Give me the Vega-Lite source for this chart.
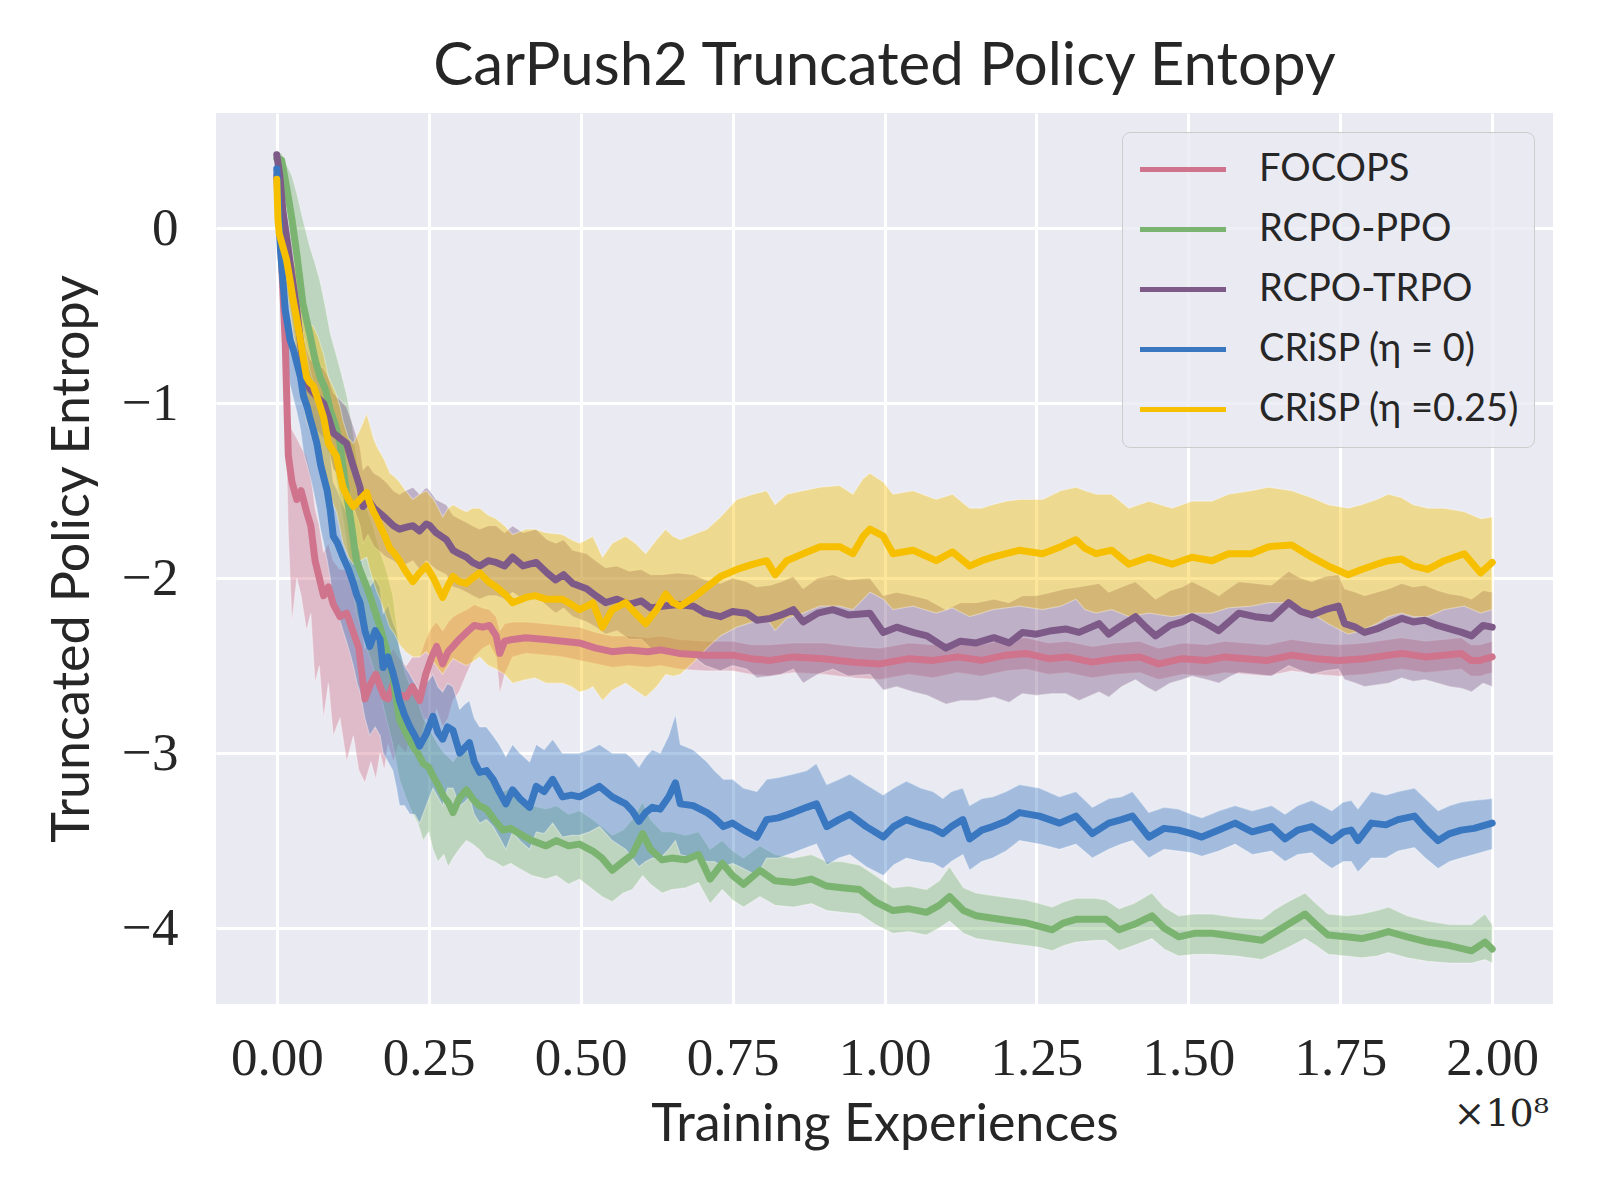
{
  "$schema": "https://vega.github.io/schema/vega-lite/v6.json",
  "width": 1337,
  "height": 891,
  "autosize": "none",
  "padding": {"left": 216, "top": 113, "right": 47, "bottom": 196},
  "background": "white",
  "title": {
    "text": "CarPush2 Truncated Policy Entopy",
    "font": "Lato",
    "fontSize": 60,
    "fontWeight": "normal",
    "color": "#262626",
    "anchor": "middle",
    "frame": "group",
    "baseline": "alphabetic",
    "offset": -32
  },
  "data": {
    "values": [
      {"s":"F","x":0,"m":0.3,"l":0.22,"h":0.36},
      {"s":"F","x":0.008,"m":-0.2,"l":-0.45,"h":0.0},
      {"s":"F","x":0.014,"m":-0.66,"l":-1.0,"h":-0.45},
      {"s":"F","x":0.019,"m":-1.3,"l":-1.75,"h":-1.0},
      {"s":"F","x":0.025,"m":-1.45,"l":-2.25,"h":-1.15},
      {"s":"F","x":0.033,"m":-1.55,"l":-2.0,"h":-1.2},
      {"s":"F","x":0.04,"m":-1.5,"l":-2.1,"h":-1.25},
      {"s":"F","x":0.049,"m":-1.62,"l":-2.3,"h":-1.3},
      {"s":"F","x":0.056,"m":-1.7,"l":-2.2,"h":-1.4},
      {"s":"F","x":0.063,"m":-1.9,"l":-2.6,"h":-1.6},
      {"s":"F","x":0.07,"m":-2.0,"l":-2.5,"h":-1.7},
      {"s":"F","x":0.077,"m":-2.1,"l":-2.8,"h":-1.85},
      {"s":"F","x":0.085,"m":-2.05,"l":-2.6,"h":-1.8},
      {"s":"F","x":0.093,"m":-2.15,"l":-2.9,"h":-1.9},
      {"s":"F","x":0.104,"m":-2.22,"l":-2.8,"h":-1.95},
      {"s":"F","x":0.115,"m":-2.2,"l":-3.05,"h":-1.95},
      {"s":"F","x":0.126,"m":-2.31,"l":-2.9,"h":-2.05},
      {"s":"F","x":0.135,"m":-2.4,"l":-3.1,"h":-2.15},
      {"s":"F","x":0.145,"m":-2.69,"l":-3.17,"h":-2.4},
      {"s":"F","x":0.155,"m":-2.6,"l":-3.05,"h":-2.35},
      {"s":"F","x":0.163,"m":-2.55,"l":-3.15,"h":-2.3},
      {"s":"F","x":0.17,"m":-2.62,"l":-3.0,"h":-2.4},
      {"s":"F","x":0.177,"m":-2.68,"l":-3.1,"h":-2.45},
      {"s":"F","x":0.183,"m":-2.69,"l":-2.95,"h":-2.45},
      {"s":"F","x":0.192,"m":-2.6,"l":-3.05,"h":-2.4},
      {"s":"F","x":0.2,"m":-2.66,"l":-2.95,"h":-2.45},
      {"s":"F","x":0.213,"m":-2.68,"l":-3.0,"h":-2.5},
      {"s":"F","x":0.223,"m":-2.62,"l":-2.85,"h":-2.45},
      {"s":"F","x":0.235,"m":-2.7,"l":-2.95,"h":-2.45},
      {"s":"F","x":0.245,"m":-2.55,"l":-2.8,"h":-2.35},
      {"s":"F","x":0.255,"m":-2.45,"l":-2.85,"h":-2.28},
      {"s":"F","x":0.263,"m":-2.39,"l":-2.75,"h":-2.25},
      {"s":"F","x":0.273,"m":-2.49,"l":-2.85,"h":-2.3},
      {"s":"F","x":0.282,"m":-2.42,"l":-2.8,"h":-2.25},
      {"s":"F","x":0.29,"m":-2.39,"l":-2.7,"h":-2.22},
      {"s":"F","x":0.3,"m":-2.35,"l":-2.65,"h":-2.2},
      {"s":"F","x":0.312,"m":-2.31,"l":-2.55,"h":-2.18},
      {"s":"F","x":0.325,"m":-2.27,"l":-2.45,"h":-2.15},
      {"s":"F","x":0.339,"m":-2.28,"l":-2.4,"h":-2.17},
      {"s":"F","x":0.35,"m":-2.27,"l":-2.38,"h":-2.18},
      {"s":"F","x":0.361,"m":-2.33,"l":-2.45,"h":-2.22},
      {"s":"F","x":0.367,"m":-2.43,"l":-2.66,"h":-2.3},
      {"s":"F","x":0.375,"m":-2.36,"l":-2.55,"h":-2.26},
      {"s":"F","x":0.388,"m":-2.35,"l":-2.45,"h":-2.25},
      {"s":"F","x":0.41,"m":-2.34,"l":-2.43,"h":-2.25},
      {"s":"F","x":0.443,"m":-2.35,"l":-2.44,"h":-2.26},
      {"s":"F","x":0.47,"m":-2.36,"l":-2.45,"h":-2.27},
      {"s":"F","x":0.498,"m":-2.37,"l":-2.47,"h":-2.28},
      {"s":"F","x":0.525,"m":-2.4,"l":-2.49,"h":-2.31},
      {"s":"F","x":0.552,"m":-2.42,"l":-2.51,"h":-2.33},
      {"s":"F","x":0.58,"m":-2.41,"l":-2.5,"h":-2.33},
      {"s":"F","x":0.61,"m":-2.42,"l":-2.51,"h":-2.34},
      {"s":"F","x":0.631,"m":-2.41,"l":-2.5,"h":-2.33},
      {"s":"F","x":0.662,"m":-2.43,"l":-2.52,"h":-2.35},
      {"s":"F","x":0.705,"m":-2.44,"l":-2.53,"h":-2.36},
      {"s":"F","x":0.75,"m":-2.44,"l":-2.53,"h":-2.36},
      {"s":"F","x":0.78,"m":-2.46,"l":-2.55,"h":-2.38},
      {"s":"F","x":0.812,"m":-2.47,"l":-2.56,"h":-2.38},
      {"s":"F","x":0.85,"m":-2.45,"l":-2.54,"h":-2.37},
      {"s":"F","x":0.9,"m":-2.46,"l":-2.55,"h":-2.37},
      {"s":"F","x":0.95,"m":-2.48,"l":-2.57,"h":-2.39},
      {"s":"F","x":0.992,"m":-2.49,"l":-2.58,"h":-2.4},
      {"s":"F","x":1.04,"m":-2.46,"l":-2.55,"h":-2.37},
      {"s":"F","x":1.08,"m":-2.47,"l":-2.57,"h":-2.38},
      {"s":"F","x":1.12,"m":-2.45,"l":-2.54,"h":-2.36},
      {"s":"F","x":1.16,"m":-2.47,"l":-2.56,"h":-2.38},
      {"s":"F","x":1.2,"m":-2.44,"l":-2.53,"h":-2.35},
      {"s":"F","x":1.233,"m":-2.43,"l":-2.52,"h":-2.34},
      {"s":"F","x":1.27,"m":-2.46,"l":-2.55,"h":-2.37},
      {"s":"F","x":1.3,"m":-2.45,"l":-2.54,"h":-2.36},
      {"s":"F","x":1.342,"m":-2.48,"l":-2.57,"h":-2.39},
      {"s":"F","x":1.38,"m":-2.46,"l":-2.55,"h":-2.37},
      {"s":"F","x":1.42,"m":-2.45,"l":-2.54,"h":-2.36},
      {"s":"F","x":1.451,"m":-2.49,"l":-2.58,"h":-2.4},
      {"s":"F","x":1.49,"m":-2.46,"l":-2.55,"h":-2.37},
      {"s":"F","x":1.53,"m":-2.47,"l":-2.56,"h":-2.38},
      {"s":"F","x":1.56,"m":-2.45,"l":-2.54,"h":-2.36},
      {"s":"F","x":1.594,"m":-2.46,"l":-2.55,"h":-2.37},
      {"s":"F","x":1.63,"m":-2.47,"l":-2.56,"h":-2.38},
      {"s":"F","x":1.67,"m":-2.44,"l":-2.53,"h":-2.35},
      {"s":"F","x":1.71,"m":-2.46,"l":-2.55,"h":-2.37},
      {"s":"F","x":1.747,"m":-2.47,"l":-2.56,"h":-2.38},
      {"s":"F","x":1.79,"m":-2.46,"l":-2.55,"h":-2.37},
      {"s":"F","x":1.83,"m":-2.44,"l":-2.53,"h":-2.35},
      {"s":"F","x":1.851,"m":-2.43,"l":-2.52,"h":-2.34},
      {"s":"F","x":1.89,"m":-2.45,"l":-2.54,"h":-2.36},
      {"s":"F","x":1.92,"m":-2.44,"l":-2.53,"h":-2.35},
      {"s":"F","x":1.949,"m":-2.43,"l":-2.52,"h":-2.34},
      {"s":"F","x":1.965,"m":-2.47,"l":-2.56,"h":-2.38},
      {"s":"F","x":1.98,"m":-2.47,"l":-2.56,"h":-2.38},
      {"s":"F","x":2.0,"m":-2.45,"l":-2.54,"h":-2.36},

      {"s":"P","x":0,"m":0.4,"l":0.35,"h":0.43},
      {"s":"P","x":0.008,"m":0.39,"l":0.3,"h":0.43},
      {"s":"P","x":0.018,"m":0.2,"l":0.05,"h":0.35},
      {"s":"P","x":0.025,"m":0.05,"l":-0.15,"h":0.3},
      {"s":"P","x":0.033,"m":-0.15,"l":-0.35,"h":0.2},
      {"s":"P","x":0.043,"m":-0.43,"l":-0.6,"h":0.05},
      {"s":"P","x":0.054,"m":-0.6,"l":-0.8,"h":-0.1},
      {"s":"P","x":0.063,"m":-0.75,"l":-0.95,"h":-0.2},
      {"s":"P","x":0.071,"m":-0.85,"l":-1.05,"h":-0.3},
      {"s":"P","x":0.08,"m":-0.92,"l":-1.15,"h":-0.45},
      {"s":"P","x":0.088,"m":-1.04,"l":-1.3,"h":-0.6},
      {"s":"P","x":0.096,"m":-1.12,"l":-1.4,"h":-0.7},
      {"s":"P","x":0.104,"m":-1.23,"l":-1.55,"h":-0.8},
      {"s":"P","x":0.115,"m":-1.52,"l":-1.8,"h":-0.95},
      {"s":"P","x":0.123,"m":-1.7,"l":-2.0,"h":-1.1},
      {"s":"P","x":0.131,"m":-1.9,"l":-2.2,"h":-1.3},
      {"s":"P","x":0.14,"m":-1.98,"l":-2.3,"h":-1.5},
      {"s":"P","x":0.148,"m":-2.05,"l":-2.4,"h":-1.6},
      {"s":"P","x":0.158,"m":-2.15,"l":-2.5,"h":-1.7},
      {"s":"P","x":0.17,"m":-2.28,"l":-2.65,"h":-1.85},
      {"s":"P","x":0.18,"m":-2.4,"l":-2.8,"h":-1.95},
      {"s":"P","x":0.191,"m":-2.56,"l":-2.95,"h":-2.1},
      {"s":"P","x":0.202,"m":-2.81,"l":-3.15,"h":-2.4},
      {"s":"P","x":0.212,"m":-2.88,"l":-3.25,"h":-2.55},
      {"s":"P","x":0.224,"m":-2.96,"l":-3.35,"h":-2.65},
      {"s":"P","x":0.232,"m":-3.0,"l":-3.4,"h":-2.7},
      {"s":"P","x":0.241,"m":-3.06,"l":-3.5,"h":-2.8},
      {"s":"P","x":0.25,"m":-3.08,"l":-3.45,"h":-2.85},
      {"s":"P","x":0.257,"m":-3.13,"l":-3.55,"h":-2.9},
      {"s":"P","x":0.265,"m":-3.18,"l":-3.62,"h":-2.95},
      {"s":"P","x":0.275,"m":-3.25,"l":-3.58,"h":-3.0},
      {"s":"P","x":0.282,"m":-3.28,"l":-3.65,"h":-3.02},
      {"s":"P","x":0.29,"m":-3.34,"l":-3.6,"h":-3.05},
      {"s":"P","x":0.3,"m":-3.26,"l":-3.55,"h":-3.0},
      {"s":"P","x":0.312,"m":-3.21,"l":-3.5,"h":-2.98},
      {"s":"P","x":0.322,"m":-3.26,"l":-3.52,"h":-3.05},
      {"s":"P","x":0.333,"m":-3.3,"l":-3.55,"h":-3.1},
      {"s":"P","x":0.345,"m":-3.32,"l":-3.6,"h":-3.12},
      {"s":"P","x":0.358,"m":-3.38,"l":-3.62,"h":-3.18},
      {"s":"P","x":0.372,"m":-3.44,"l":-3.65,"h":-3.22},
      {"s":"P","x":0.385,"m":-3.43,"l":-3.63,"h":-3.2},
      {"s":"P","x":0.399,"m":-3.46,"l":-3.66,"h":-3.28},
      {"s":"P","x":0.42,"m":-3.5,"l":-3.7,"h":-3.3},
      {"s":"P","x":0.443,"m":-3.53,"l":-3.72,"h":-3.32},
      {"s":"P","x":0.46,"m":-3.5,"l":-3.7,"h":-3.3},
      {"s":"P","x":0.48,"m":-3.53,"l":-3.75,"h":-3.35},
      {"s":"P","x":0.498,"m":-3.52,"l":-3.72,"h":-3.33},
      {"s":"P","x":0.52,"m":-3.56,"l":-3.78,"h":-3.38},
      {"s":"P","x":0.535,"m":-3.6,"l":-3.82,"h":-3.42},
      {"s":"P","x":0.552,"m":-3.67,"l":-3.85,"h":-3.47},
      {"s":"P","x":0.57,"m":-3.62,"l":-3.8,"h":-3.44},
      {"s":"P","x":0.585,"m":-3.58,"l":-3.78,"h":-3.38},
      {"s":"P","x":0.602,"m":-3.46,"l":-3.7,"h":-3.28},
      {"s":"P","x":0.615,"m":-3.55,"l":-3.75,"h":-3.38},
      {"s":"P","x":0.634,"m":-3.61,"l":-3.8,"h":-3.45},
      {"s":"P","x":0.65,"m":-3.6,"l":-3.78,"h":-3.45},
      {"s":"P","x":0.673,"m":-3.61,"l":-3.77,"h":-3.47},
      {"s":"P","x":0.694,"m":-3.58,"l":-3.74,"h":-3.45},
      {"s":"P","x":0.713,"m":-3.72,"l":-3.86,"h":-3.55},
      {"s":"P","x":0.733,"m":-3.63,"l":-3.78,"h":-3.5},
      {"s":"P","x":0.75,"m":-3.7,"l":-3.84,"h":-3.56},
      {"s":"P","x":0.768,"m":-3.75,"l":-3.88,"h":-3.6},
      {"s":"P","x":0.795,"m":-3.67,"l":-3.82,"h":-3.53},
      {"s":"P","x":0.82,"m":-3.73,"l":-3.87,"h":-3.58},
      {"s":"P","x":0.85,"m":-3.74,"l":-3.88,"h":-3.6},
      {"s":"P","x":0.88,"m":-3.72,"l":-3.86,"h":-3.58},
      {"s":"P","x":0.905,"m":-3.76,"l":-3.9,"h":-3.62},
      {"s":"P","x":0.93,"m":-3.77,"l":-3.91,"h":-3.62},
      {"s":"P","x":0.959,"m":-3.78,"l":-3.92,"h":-3.64},
      {"s":"P","x":0.985,"m":-3.85,"l":-3.98,"h":-3.7},
      {"s":"P","x":1.014,"m":-3.9,"l":-4.03,"h":-3.77},
      {"s":"P","x":1.04,"m":-3.89,"l":-4.02,"h":-3.76},
      {"s":"P","x":1.069,"m":-3.91,"l":-4.04,"h":-3.78},
      {"s":"P","x":1.09,"m":-3.87,"l":-4.0,"h":-3.73},
      {"s":"P","x":1.107,"m":-3.82,"l":-3.96,"h":-3.65},
      {"s":"P","x":1.13,"m":-3.9,"l":-4.03,"h":-3.77},
      {"s":"P","x":1.151,"m":-3.93,"l":-4.06,"h":-3.8},
      {"s":"P","x":1.19,"m":-3.95,"l":-4.08,"h":-3.82},
      {"s":"P","x":1.233,"m":-3.97,"l":-4.1,"h":-3.84},
      {"s":"P","x":1.255,"m":-3.99,"l":-4.11,"h":-3.86},
      {"s":"P","x":1.276,"m":-4.01,"l":-4.13,"h":-3.88},
      {"s":"P","x":1.295,"m":-3.97,"l":-4.1,"h":-3.85},
      {"s":"P","x":1.315,"m":-3.95,"l":-4.08,"h":-3.83},
      {"s":"P","x":1.348,"m":-3.95,"l":-4.07,"h":-3.83},
      {"s":"P","x":1.364,"m":-3.95,"l":-4.07,"h":-3.84},
      {"s":"P","x":1.386,"m":-4.01,"l":-4.13,"h":-3.89},
      {"s":"P","x":1.41,"m":-3.98,"l":-4.1,"h":-3.86},
      {"s":"P","x":1.44,"m":-3.93,"l":-4.06,"h":-3.8},
      {"s":"P","x":1.46,"m":-4.0,"l":-4.12,"h":-3.88},
      {"s":"P","x":1.484,"m":-4.05,"l":-4.16,"h":-3.93},
      {"s":"P","x":1.51,"m":-4.03,"l":-4.15,"h":-3.92},
      {"s":"P","x":1.539,"m":-4.03,"l":-4.15,"h":-3.92},
      {"s":"P","x":1.58,"m":-4.05,"l":-4.16,"h":-3.94},
      {"s":"P","x":1.621,"m":-4.07,"l":-4.18,"h":-3.95},
      {"s":"P","x":1.64,"m":-4.03,"l":-4.15,"h":-3.9},
      {"s":"P","x":1.659,"m":-3.99,"l":-4.12,"h":-3.86},
      {"s":"P","x":1.692,"m":-3.92,"l":-4.06,"h":-3.8},
      {"s":"P","x":1.71,"m":-3.98,"l":-4.1,"h":-3.86},
      {"s":"P","x":1.73,"m":-4.04,"l":-4.15,"h":-3.92},
      {"s":"P","x":1.76,"m":-4.05,"l":-4.16,"h":-3.93},
      {"s":"P","x":1.785,"m":-4.06,"l":-4.17,"h":-3.92},
      {"s":"P","x":1.81,"m":-4.04,"l":-4.16,"h":-3.9},
      {"s":"P","x":1.829,"m":-4.02,"l":-4.14,"h":-3.88},
      {"s":"P","x":1.86,"m":-4.05,"l":-4.17,"h":-3.93},
      {"s":"P","x":1.894,"m":-4.08,"l":-4.19,"h":-3.96},
      {"s":"P","x":1.93,"m":-4.1,"l":-4.2,"h":-3.98},
      {"s":"P","x":1.966,"m":-4.13,"l":-4.2,"h":-3.98},
      {"s":"P","x":1.988,"m":-4.08,"l":-4.18,"h":-3.92},
      {"s":"P","x":2.0,"m":-4.12,"l":-4.2,"h":-3.98},

      {"s":"T","x":0,"m":0.42,"l":0.38,"h":0.45},
      {"s":"T","x":0.005,"m":0.3,"l":0.2,"h":0.4},
      {"s":"T","x":0.01,"m":0.1,"l":-0.05,"h":0.25},
      {"s":"T","x":0.016,"m":-0.05,"l":-0.2,"h":0.1},
      {"s":"T","x":0.024,"m":-0.25,"l":-0.42,"h":-0.08},
      {"s":"T","x":0.033,"m":-0.47,"l":-0.65,"h":-0.3},
      {"s":"T","x":0.04,"m":-0.68,"l":-0.85,"h":-0.5},
      {"s":"T","x":0.044,"m":-0.81,"l":-0.98,"h":-0.62},
      {"s":"T","x":0.05,"m":-0.88,"l":-1.05,"h":-0.7},
      {"s":"T","x":0.055,"m":-0.92,"l":-1.1,"h":-0.75},
      {"s":"T","x":0.065,"m":-0.96,"l":-1.15,"h":-0.78},
      {"s":"T","x":0.077,"m":-1.0,"l":-1.2,"h":-0.8},
      {"s":"T","x":0.085,"m":-1.08,"l":-1.28,"h":-0.85},
      {"s":"T","x":0.093,"m":-1.17,"l":-1.38,"h":-0.94},
      {"s":"T","x":0.104,"m":-1.2,"l":-1.42,"h":-0.98},
      {"s":"T","x":0.115,"m":-1.23,"l":-1.45,"h":-1.02},
      {"s":"T","x":0.125,"m":-1.35,"l":-1.58,"h":-1.12},
      {"s":"T","x":0.137,"m":-1.48,"l":-1.7,"h":-1.25},
      {"s":"T","x":0.142,"m":-1.59,"l":-1.8,"h":-1.38},
      {"s":"T","x":0.15,"m":-1.55,"l":-1.75,"h":-1.35},
      {"s":"T","x":0.16,"m":-1.6,"l":-1.82,"h":-1.4},
      {"s":"T","x":0.17,"m":-1.63,"l":-1.85,"h":-1.42},
      {"s":"T","x":0.18,"m":-1.66,"l":-1.88,"h":-1.45},
      {"s":"T","x":0.192,"m":-1.7,"l":-1.9,"h":-1.5},
      {"s":"T","x":0.202,"m":-1.72,"l":-1.93,"h":-1.52},
      {"s":"T","x":0.212,"m":-1.71,"l":-1.92,"h":-1.5},
      {"s":"T","x":0.224,"m":-1.7,"l":-1.9,"h":-1.48},
      {"s":"T","x":0.235,"m":-1.73,"l":-1.95,"h":-1.52},
      {"s":"T","x":0.246,"m":-1.69,"l":-1.9,"h":-1.48},
      {"s":"T","x":0.252,"m":-1.7,"l":-1.92,"h":-1.5},
      {"s":"T","x":0.262,"m":-1.74,"l":-1.95,"h":-1.55},
      {"s":"T","x":0.279,"m":-1.78,"l":-1.98,"h":-1.58},
      {"s":"T","x":0.29,"m":-1.84,"l":-2.05,"h":-1.64},
      {"s":"T","x":0.3,"m":-1.86,"l":-2.06,"h":-1.66},
      {"s":"T","x":0.312,"m":-1.88,"l":-2.08,"h":-1.68},
      {"s":"T","x":0.322,"m":-1.91,"l":-2.1,"h":-1.7},
      {"s":"T","x":0.334,"m":-1.93,"l":-2.12,"h":-1.72},
      {"s":"T","x":0.348,"m":-1.9,"l":-2.1,"h":-1.7},
      {"s":"T","x":0.361,"m":-1.91,"l":-2.1,"h":-1.7},
      {"s":"T","x":0.375,"m":-1.93,"l":-2.12,"h":-1.74},
      {"s":"T","x":0.388,"m":-1.88,"l":-2.08,"h":-1.7},
      {"s":"T","x":0.405,"m":-1.93,"l":-2.12,"h":-1.74},
      {"s":"T","x":0.427,"m":-1.91,"l":-2.1,"h":-1.72},
      {"s":"T","x":0.445,"m":-1.97,"l":-2.16,"h":-1.78},
      {"s":"T","x":0.459,"m":-2.01,"l":-2.2,"h":-1.8},
      {"s":"T","x":0.472,"m":-1.98,"l":-2.17,"h":-1.78},
      {"s":"T","x":0.487,"m":-2.03,"l":-2.22,"h":-1.84},
      {"s":"T","x":0.51,"m":-2.06,"l":-2.25,"h":-1.86},
      {"s":"T","x":0.525,"m":-2.1,"l":-2.28,"h":-1.9},
      {"s":"T","x":0.541,"m":-2.14,"l":-2.32,"h":-1.94},
      {"s":"T","x":0.56,"m":-2.12,"l":-2.3,"h":-1.93},
      {"s":"T","x":0.58,"m":-2.15,"l":-2.35,"h":-1.96},
      {"s":"T","x":0.6,"m":-2.13,"l":-2.35,"h":-1.95},
      {"s":"T","x":0.615,"m":-2.17,"l":-2.4,"h":-1.98},
      {"s":"T","x":0.634,"m":-2.16,"l":-2.42,"h":-1.98},
      {"s":"T","x":0.66,"m":-2.15,"l":-2.43,"h":-1.97},
      {"s":"T","x":0.686,"m":-2.16,"l":-2.45,"h":-1.98},
      {"s":"T","x":0.705,"m":-2.2,"l":-2.5,"h":-2.01},
      {"s":"T","x":0.73,"m":-2.22,"l":-2.53,"h":-2.03},
      {"s":"T","x":0.75,"m":-2.19,"l":-2.5,"h":-2.0},
      {"s":"T","x":0.773,"m":-2.2,"l":-2.52,"h":-2.02},
      {"s":"T","x":0.79,"m":-2.24,"l":-2.57,"h":-2.05},
      {"s":"T","x":0.812,"m":-2.23,"l":-2.56,"h":-2.04},
      {"s":"T","x":0.83,"m":-2.21,"l":-2.55,"h":-2.02},
      {"s":"T","x":0.85,"m":-2.18,"l":-2.52,"h":-1.99},
      {"s":"T","x":0.866,"m":-2.25,"l":-2.6,"h":-2.06},
      {"s":"T","x":0.89,"m":-2.2,"l":-2.55,"h":-2.0},
      {"s":"T","x":0.915,"m":-2.18,"l":-2.52,"h":-1.98},
      {"s":"T","x":0.94,"m":-2.21,"l":-2.56,"h":-2.01},
      {"s":"T","x":0.976,"m":-2.2,"l":-2.55,"h":-2.0},
      {"s":"T","x":0.998,"m":-2.31,"l":-2.64,"h":-2.1},
      {"s":"T","x":1.02,"m":-2.28,"l":-2.62,"h":-2.08},
      {"s":"T","x":1.047,"m":-2.31,"l":-2.65,"h":-2.1},
      {"s":"T","x":1.07,"m":-2.33,"l":-2.67,"h":-2.12},
      {"s":"T","x":1.101,"m":-2.4,"l":-2.72,"h":-2.18},
      {"s":"T","x":1.125,"m":-2.36,"l":-2.7,"h":-2.14},
      {"s":"T","x":1.151,"m":-2.37,"l":-2.7,"h":-2.14},
      {"s":"T","x":1.18,"m":-2.34,"l":-2.68,"h":-2.12},
      {"s":"T","x":1.205,"m":-2.37,"l":-2.71,"h":-2.14},
      {"s":"T","x":1.227,"m":-2.31,"l":-2.66,"h":-2.1},
      {"s":"T","x":1.25,"m":-2.32,"l":-2.67,"h":-2.1},
      {"s":"T","x":1.275,"m":-2.3,"l":-2.66,"h":-2.08},
      {"s":"T","x":1.298,"m":-2.29,"l":-2.66,"h":-2.06},
      {"s":"T","x":1.32,"m":-2.31,"l":-2.7,"h":-2.05},
      {"s":"T","x":1.353,"m":-2.26,"l":-2.65,"h":-2.03},
      {"s":"T","x":1.369,"m":-2.32,"l":-2.68,"h":-2.08},
      {"s":"T","x":1.39,"m":-2.27,"l":-2.62,"h":-2.05},
      {"s":"T","x":1.413,"m":-2.22,"l":-2.58,"h":-2.02},
      {"s":"T","x":1.43,"m":-2.28,"l":-2.62,"h":-2.07},
      {"s":"T","x":1.446,"m":-2.33,"l":-2.65,"h":-2.12},
      {"s":"T","x":1.47,"m":-2.27,"l":-2.6,"h":-2.07},
      {"s":"T","x":1.49,"m":-2.25,"l":-2.58,"h":-2.05},
      {"s":"T","x":1.506,"m":-2.22,"l":-2.56,"h":-2.02},
      {"s":"T","x":1.53,"m":-2.26,"l":-2.58,"h":-2.06},
      {"s":"T","x":1.55,"m":-2.3,"l":-2.6,"h":-2.1},
      {"s":"T","x":1.57,"m":-2.24,"l":-2.56,"h":-2.05},
      {"s":"T","x":1.583,"m":-2.2,"l":-2.54,"h":-2.02},
      {"s":"T","x":1.61,"m":-2.22,"l":-2.55,"h":-2.03},
      {"s":"T","x":1.637,"m":-2.23,"l":-2.56,"h":-2.04},
      {"s":"T","x":1.665,"m":-2.14,"l":-2.5,"h":-1.96},
      {"s":"T","x":1.685,"m":-2.19,"l":-2.53,"h":-2.0},
      {"s":"T","x":1.703,"m":-2.21,"l":-2.55,"h":-2.02},
      {"s":"T","x":1.725,"m":-2.18,"l":-2.53,"h":-1.99},
      {"s":"T","x":1.747,"m":-2.16,"l":-2.52,"h":-1.98},
      {"s":"T","x":1.757,"m":-2.26,"l":-2.58,"h":-2.06},
      {"s":"T","x":1.775,"m":-2.28,"l":-2.6,"h":-2.08},
      {"s":"T","x":1.79,"m":-2.31,"l":-2.62,"h":-2.1},
      {"s":"T","x":1.81,"m":-2.29,"l":-2.61,"h":-2.08},
      {"s":"T","x":1.83,"m":-2.26,"l":-2.6,"h":-2.06},
      {"s":"T","x":1.851,"m":-2.23,"l":-2.57,"h":-2.03},
      {"s":"T","x":1.87,"m":-2.25,"l":-2.59,"h":-2.05},
      {"s":"T","x":1.889,"m":-2.24,"l":-2.58,"h":-2.04},
      {"s":"T","x":1.91,"m":-2.27,"l":-2.6,"h":-2.07},
      {"s":"T","x":1.93,"m":-2.29,"l":-2.62,"h":-2.09},
      {"s":"T","x":1.95,"m":-2.31,"l":-2.63,"h":-2.1},
      {"s":"T","x":1.966,"m":-2.33,"l":-2.65,"h":-2.12},
      {"s":"T","x":1.985,"m":-2.27,"l":-2.6,"h":-2.07},
      {"s":"T","x":2.0,"m":-2.28,"l":-2.62,"h":-2.08},

      {"s":"C0","x":0,"m":0.34,"l":0.3,"h":0.38},
      {"s":"C0","x":0.006,"m":-0.12,"l":-0.3,"h":0.05},
      {"s":"C0","x":0.014,"m":-0.47,"l":-0.7,"h":-0.25},
      {"s":"C0","x":0.022,"m":-0.64,"l":-0.9,"h":-0.4},
      {"s":"C0","x":0.028,"m":-0.7,"l":-0.98,"h":-0.45},
      {"s":"C0","x":0.033,"m":-0.77,"l":-1.05,"h":-0.5},
      {"s":"C0","x":0.039,"m":-0.85,"l":-1.15,"h":-0.58},
      {"s":"C0","x":0.044,"m":-0.96,"l":-1.28,"h":-0.68},
      {"s":"C0","x":0.05,"m":-1.02,"l":-1.35,"h":-0.75},
      {"s":"C0","x":0.055,"m":-1.09,"l":-1.42,"h":-0.82},
      {"s":"C0","x":0.06,"m":-1.15,"l":-1.5,"h":-0.88},
      {"s":"C0","x":0.066,"m":-1.23,"l":-1.6,"h":-0.95},
      {"s":"C0","x":0.072,"m":-1.35,"l":-1.72,"h":-1.05},
      {"s":"C0","x":0.077,"m":-1.42,"l":-1.8,"h":-1.12},
      {"s":"C0","x":0.083,"m":-1.5,"l":-1.9,"h":-1.2},
      {"s":"C0","x":0.088,"m":-1.61,"l":-2.0,"h":-1.3},
      {"s":"C0","x":0.093,"m":-1.76,"l":-2.15,"h":-1.45},
      {"s":"C0","x":0.1,"m":-1.8,"l":-2.2,"h":-1.5},
      {"s":"C0","x":0.109,"m":-1.88,"l":-2.3,"h":-1.58},
      {"s":"C0","x":0.118,"m":-1.95,"l":-2.4,"h":-1.65},
      {"s":"C0","x":0.126,"m":-2.03,"l":-2.5,"h":-1.72},
      {"s":"C0","x":0.132,"m":-2.1,"l":-2.6,"h":-1.8},
      {"s":"C0","x":0.137,"m":-2.14,"l":-2.65,"h":-1.85},
      {"s":"C0","x":0.145,"m":-2.3,"l":-2.8,"h":-2.0},
      {"s":"C0","x":0.153,"m":-2.39,"l":-2.9,"h":-2.05},
      {"s":"C0","x":0.162,"m":-2.3,"l":-2.85,"h":-2.0},
      {"s":"C0","x":0.17,"m":-2.35,"l":-2.9,"h":-2.05},
      {"s":"C0","x":0.175,"m":-2.51,"l":-3.0,"h":-2.2},
      {"s":"C0","x":0.183,"m":-2.45,"l":-3.05,"h":-2.15},
      {"s":"C0","x":0.191,"m":-2.54,"l":-3.1,"h":-2.25},
      {"s":"C0","x":0.197,"m":-2.62,"l":-3.2,"h":-2.3},
      {"s":"C0","x":0.202,"m":-2.7,"l":-3.3,"h":-2.4},
      {"s":"C0","x":0.21,"m":-2.78,"l":-3.3,"h":-2.5},
      {"s":"C0","x":0.219,"m":-2.85,"l":-3.35,"h":-2.55},
      {"s":"C0","x":0.227,"m":-2.9,"l":-3.35,"h":-2.6},
      {"s":"C0","x":0.235,"m":-2.96,"l":-3.4,"h":-2.65},
      {"s":"C0","x":0.246,"m":-2.89,"l":-3.3,"h":-2.6},
      {"s":"C0","x":0.257,"m":-2.79,"l":-3.2,"h":-2.55},
      {"s":"C0","x":0.265,"m":-2.88,"l":-3.25,"h":-2.62},
      {"s":"C0","x":0.273,"m":-2.92,"l":-3.3,"h":-2.65},
      {"s":"C0","x":0.281,"m":-2.85,"l":-3.2,"h":-2.6},
      {"s":"C0","x":0.29,"m":-2.87,"l":-3.2,"h":-2.62},
      {"s":"C0","x":0.301,"m":-3.0,"l":-3.3,"h":-2.75},
      {"s":"C0","x":0.309,"m":-2.97,"l":-3.28,"h":-2.72},
      {"s":"C0","x":0.317,"m":-2.94,"l":-3.25,"h":-2.7},
      {"s":"C0","x":0.325,"m":-3.05,"l":-3.35,"h":-2.8},
      {"s":"C0","x":0.334,"m":-3.11,"l":-3.4,"h":-2.85},
      {"s":"C0","x":0.345,"m":-3.1,"l":-3.38,"h":-2.85},
      {"s":"C0","x":0.356,"m":-3.15,"l":-3.42,"h":-2.9},
      {"s":"C0","x":0.366,"m":-3.22,"l":-3.48,"h":-2.95},
      {"s":"C0","x":0.377,"m":-3.29,"l":-3.55,"h":-3.02},
      {"s":"C0","x":0.388,"m":-3.21,"l":-3.45,"h":-2.95},
      {"s":"C0","x":0.4,"m":-3.26,"l":-3.5,"h":-3.0},
      {"s":"C0","x":0.416,"m":-3.31,"l":-3.55,"h":-3.05},
      {"s":"C0","x":0.427,"m":-3.19,"l":-3.45,"h":-2.95},
      {"s":"C0","x":0.44,"m":-3.22,"l":-3.46,"h":-2.98},
      {"s":"C0","x":0.454,"m":-3.15,"l":-3.4,"h":-2.92},
      {"s":"C0","x":0.47,"m":-3.25,"l":-3.48,"h":-3.0},
      {"s":"C0","x":0.485,"m":-3.24,"l":-3.47,"h":-3.0},
      {"s":"C0","x":0.498,"m":-3.25,"l":-3.47,"h":-3.0},
      {"s":"C0","x":0.515,"m":-3.22,"l":-3.45,"h":-2.98},
      {"s":"C0","x":0.531,"m":-3.19,"l":-3.42,"h":-2.95},
      {"s":"C0","x":0.552,"m":-3.25,"l":-3.5,"h":-3.0},
      {"s":"C0","x":0.574,"m":-3.29,"l":-3.55,"h":-3.0},
      {"s":"C0","x":0.585,"m":-3.33,"l":-3.6,"h":-3.03},
      {"s":"C0","x":0.596,"m":-3.39,"l":-3.65,"h":-3.08},
      {"s":"C0","x":0.607,"m":-3.34,"l":-3.62,"h":-3.02},
      {"s":"C0","x":0.618,"m":-3.31,"l":-3.6,"h":-2.98},
      {"s":"C0","x":0.631,"m":-3.32,"l":-3.6,"h":-3.0},
      {"s":"C0","x":0.645,"m":-3.25,"l":-3.55,"h":-2.9},
      {"s":"C0","x":0.656,"m":-3.17,"l":-3.5,"h":-2.78},
      {"s":"C0","x":0.664,"m":-3.29,"l":-3.58,"h":-2.95},
      {"s":"C0","x":0.685,"m":-3.3,"l":-3.6,"h":-2.98},
      {"s":"C0","x":0.708,"m":-3.34,"l":-3.62,"h":-3.05},
      {"s":"C0","x":0.72,"m":-3.37,"l":-3.62,"h":-3.1},
      {"s":"C0","x":0.735,"m":-3.42,"l":-3.65,"h":-3.15},
      {"s":"C0","x":0.75,"m":-3.4,"l":-3.63,"h":-3.15},
      {"s":"C0","x":0.768,"m":-3.44,"l":-3.66,"h":-3.2},
      {"s":"C0","x":0.79,"m":-3.48,"l":-3.7,"h":-3.22},
      {"s":"C0","x":0.806,"m":-3.38,"l":-3.6,"h":-3.15},
      {"s":"C0","x":0.825,"m":-3.37,"l":-3.6,"h":-3.14},
      {"s":"C0","x":0.85,"m":-3.34,"l":-3.57,"h":-3.12},
      {"s":"C0","x":0.872,"m":-3.31,"l":-3.54,"h":-3.1},
      {"s":"C0","x":0.888,"m":-3.29,"l":-3.52,"h":-3.06},
      {"s":"C0","x":0.905,"m":-3.42,"l":-3.64,"h":-3.18},
      {"s":"C0","x":0.925,"m":-3.38,"l":-3.6,"h":-3.15},
      {"s":"C0","x":0.943,"m":-3.35,"l":-3.58,"h":-3.12},
      {"s":"C0","x":0.97,"m":-3.42,"l":-3.65,"h":-3.18},
      {"s":"C0","x":0.998,"m":-3.48,"l":-3.7,"h":-3.24},
      {"s":"C0","x":1.015,"m":-3.42,"l":-3.64,"h":-3.2},
      {"s":"C0","x":1.036,"m":-3.38,"l":-3.6,"h":-3.16},
      {"s":"C0","x":1.06,"m":-3.41,"l":-3.62,"h":-3.2},
      {"s":"C0","x":1.08,"m":-3.43,"l":-3.63,"h":-3.22},
      {"s":"C0","x":1.096,"m":-3.46,"l":-3.66,"h":-3.26},
      {"s":"C0","x":1.11,"m":-3.42,"l":-3.62,"h":-3.22},
      {"s":"C0","x":1.129,"m":-3.38,"l":-3.58,"h":-3.2},
      {"s":"C0","x":1.14,"m":-3.49,"l":-3.67,"h":-3.3},
      {"s":"C0","x":1.16,"m":-3.44,"l":-3.62,"h":-3.26},
      {"s":"C0","x":1.178,"m":-3.42,"l":-3.6,"h":-3.25},
      {"s":"C0","x":1.2,"m":-3.39,"l":-3.56,"h":-3.22},
      {"s":"C0","x":1.222,"m":-3.34,"l":-3.5,"h":-3.18},
      {"s":"C0","x":1.255,"m":-3.36,"l":-3.52,"h":-3.2},
      {"s":"C0","x":1.288,"m":-3.4,"l":-3.55,"h":-3.25},
      {"s":"C0","x":1.315,"m":-3.36,"l":-3.52,"h":-3.22},
      {"s":"C0","x":1.342,"m":-3.46,"l":-3.6,"h":-3.31},
      {"s":"C0","x":1.369,"m":-3.4,"l":-3.55,"h":-3.26},
      {"s":"C0","x":1.39,"m":-3.38,"l":-3.52,"h":-3.25},
      {"s":"C0","x":1.408,"m":-3.36,"l":-3.5,"h":-3.22},
      {"s":"C0","x":1.435,"m":-3.48,"l":-3.6,"h":-3.34},
      {"s":"C0","x":1.46,"m":-3.43,"l":-3.55,"h":-3.31},
      {"s":"C0","x":1.484,"m":-3.44,"l":-3.56,"h":-3.32},
      {"s":"C0","x":1.505,"m":-3.46,"l":-3.57,"h":-3.35},
      {"s":"C0","x":1.522,"m":-3.48,"l":-3.59,"h":-3.37},
      {"s":"C0","x":1.55,"m":-3.44,"l":-3.56,"h":-3.33},
      {"s":"C0","x":1.577,"m":-3.4,"l":-3.52,"h":-3.3},
      {"s":"C0","x":1.605,"m":-3.45,"l":-3.58,"h":-3.33},
      {"s":"C0","x":1.637,"m":-3.42,"l":-3.56,"h":-3.3},
      {"s":"C0","x":1.659,"m":-3.49,"l":-3.62,"h":-3.35},
      {"s":"C0","x":1.68,"m":-3.44,"l":-3.58,"h":-3.3},
      {"s":"C0","x":1.703,"m":-3.42,"l":-3.57,"h":-3.27},
      {"s":"C0","x":1.72,"m":-3.46,"l":-3.62,"h":-3.3},
      {"s":"C0","x":1.736,"m":-3.5,"l":-3.66,"h":-3.33},
      {"s":"C0","x":1.755,"m":-3.45,"l":-3.62,"h":-3.28},
      {"s":"C0","x":1.768,"m":-3.44,"l":-3.62,"h":-3.27},
      {"s":"C0","x":1.779,"m":-3.5,"l":-3.68,"h":-3.32},
      {"s":"C0","x":1.801,"m":-3.4,"l":-3.6,"h":-3.22},
      {"s":"C0","x":1.825,"m":-3.41,"l":-3.6,"h":-3.24},
      {"s":"C0","x":1.845,"m":-3.38,"l":-3.56,"h":-3.22},
      {"s":"C0","x":1.872,"m":-3.36,"l":-3.54,"h":-3.2},
      {"s":"C0","x":1.89,"m":-3.43,"l":-3.6,"h":-3.26},
      {"s":"C0","x":1.911,"m":-3.5,"l":-3.66,"h":-3.33},
      {"s":"C0","x":1.93,"m":-3.46,"l":-3.62,"h":-3.3},
      {"s":"C0","x":1.949,"m":-3.44,"l":-3.6,"h":-3.28},
      {"s":"C0","x":1.97,"m":-3.43,"l":-3.58,"h":-3.27},
      {"s":"C0","x":2.0,"m":-3.4,"l":-3.55,"h":-3.26},

      {"s":"C1","x":0,"m":0.28,"l":0.24,"h":0.32},
      {"s":"C1","x":0.002,"m":0.05,"l":-0.05,"h":0.2},
      {"s":"C1","x":0.004,"m":-0.03,"l":-0.12,"h":0.1},
      {"s":"C1","x":0.008,"m":-0.08,"l":-0.2,"h":0.05},
      {"s":"C1","x":0.016,"m":-0.18,"l":-0.35,"h":-0.02},
      {"s":"C1","x":0.022,"m":-0.3,"l":-0.48,"h":-0.1},
      {"s":"C1","x":0.027,"m":-0.41,"l":-0.6,"h":-0.18},
      {"s":"C1","x":0.033,"m":-0.52,"l":-0.72,"h":-0.25},
      {"s":"C1","x":0.038,"m":-0.62,"l":-0.85,"h":-0.32},
      {"s":"C1","x":0.044,"m":-0.75,"l":-0.98,"h":-0.42},
      {"s":"C1","x":0.049,"m":-0.85,"l":-1.1,"h":-0.5},
      {"s":"C1","x":0.054,"m":-0.88,"l":-1.15,"h":-0.55},
      {"s":"C1","x":0.06,"m":-0.9,"l":-1.18,"h":-0.56},
      {"s":"C1","x":0.068,"m":-0.98,"l":-1.25,"h":-0.62},
      {"s":"C1","x":0.077,"m":-1.08,"l":-1.38,"h":-0.72},
      {"s":"C1","x":0.085,"m":-1.23,"l":-1.52,"h":-0.85},
      {"s":"C1","x":0.092,"m":-1.27,"l":-1.57,"h":-0.9},
      {"s":"C1","x":0.098,"m":-1.3,"l":-1.62,"h":-0.95},
      {"s":"C1","x":0.104,"m":-1.4,"l":-1.72,"h":-1.02},
      {"s":"C1","x":0.109,"m":-1.48,"l":-1.8,"h":-1.1},
      {"s":"C1","x":0.118,"m":-1.55,"l":-1.88,"h":-1.2},
      {"s":"C1","x":0.126,"m":-1.59,"l":-1.92,"h":-1.23},
      {"s":"C1","x":0.137,"m":-1.55,"l":-1.9,"h":-1.15},
      {"s":"C1","x":0.148,"m":-1.51,"l":-1.88,"h":-1.06},
      {"s":"C1","x":0.153,"m":-1.57,"l":-1.95,"h":-1.12},
      {"s":"C1","x":0.159,"m":-1.62,"l":-2.02,"h":-1.2},
      {"s":"C1","x":0.165,"m":-1.66,"l":-2.08,"h":-1.25},
      {"s":"C1","x":0.17,"m":-1.7,"l":-2.12,"h":-1.28},
      {"s":"C1","x":0.178,"m":-1.76,"l":-2.2,"h":-1.33},
      {"s":"C1","x":0.186,"m":-1.83,"l":-2.28,"h":-1.4},
      {"s":"C1","x":0.194,"m":-1.86,"l":-2.32,"h":-1.42},
      {"s":"C1","x":0.202,"m":-1.9,"l":-2.38,"h":-1.45},
      {"s":"C1","x":0.212,"m":-1.96,"l":-2.42,"h":-1.5},
      {"s":"C1","x":0.224,"m":-2.02,"l":-2.45,"h":-1.55},
      {"s":"C1","x":0.235,"m":-1.97,"l":-2.45,"h":-1.52},
      {"s":"C1","x":0.246,"m":-1.93,"l":-2.42,"h":-1.5},
      {"s":"C1","x":0.258,"m":-2.0,"l":-2.48,"h":-1.55},
      {"s":"C1","x":0.266,"m":-2.06,"l":-2.52,"h":-1.6},
      {"s":"C1","x":0.273,"m":-2.11,"l":-2.55,"h":-1.65},
      {"s":"C1","x":0.282,"m":-2.04,"l":-2.5,"h":-1.6},
      {"s":"C1","x":0.29,"m":-1.99,"l":-2.46,"h":-1.58},
      {"s":"C1","x":0.3,"m":-2.02,"l":-2.48,"h":-1.6},
      {"s":"C1","x":0.312,"m":-2.03,"l":-2.5,"h":-1.62},
      {"s":"C1","x":0.322,"m":-2.0,"l":-2.48,"h":-1.6},
      {"s":"C1","x":0.334,"m":-1.97,"l":-2.45,"h":-1.6},
      {"s":"C1","x":0.348,"m":-2.02,"l":-2.5,"h":-1.64},
      {"s":"C1","x":0.361,"m":-2.05,"l":-2.52,"h":-1.66},
      {"s":"C1","x":0.375,"m":-2.09,"l":-2.55,"h":-1.7},
      {"s":"C1","x":0.388,"m":-2.14,"l":-2.6,"h":-1.75},
      {"s":"C1","x":0.41,"m":-2.11,"l":-2.58,"h":-1.72},
      {"s":"C1","x":0.425,"m":-2.1,"l":-2.57,"h":-1.72},
      {"s":"C1","x":0.443,"m":-2.12,"l":-2.6,"h":-1.74},
      {"s":"C1","x":0.47,"m":-2.12,"l":-2.6,"h":-1.75},
      {"s":"C1","x":0.485,"m":-2.15,"l":-2.62,"h":-1.78},
      {"s":"C1","x":0.498,"m":-2.18,"l":-2.65,"h":-1.8},
      {"s":"C1","x":0.51,"m":-2.16,"l":-2.64,"h":-1.78},
      {"s":"C1","x":0.52,"m":-2.14,"l":-2.62,"h":-1.76},
      {"s":"C1","x":0.536,"m":-2.28,"l":-2.7,"h":-1.88},
      {"s":"C1","x":0.552,"m":-2.18,"l":-2.64,"h":-1.8},
      {"s":"C1","x":0.574,"m":-2.14,"l":-2.6,"h":-1.76},
      {"s":"C1","x":0.59,"m":-2.2,"l":-2.64,"h":-1.8},
      {"s":"C1","x":0.607,"m":-2.26,"l":-2.68,"h":-1.86},
      {"s":"C1","x":0.625,"m":-2.18,"l":-2.62,"h":-1.78},
      {"s":"C1","x":0.64,"m":-2.09,"l":-2.55,"h":-1.72},
      {"s":"C1","x":0.652,"m":-2.14,"l":-2.56,"h":-1.76},
      {"s":"C1","x":0.664,"m":-2.16,"l":-2.55,"h":-1.78},
      {"s":"C1","x":0.686,"m":-2.11,"l":-2.48,"h":-1.75},
      {"s":"C1","x":0.708,"m":-2.05,"l":-2.4,"h":-1.72},
      {"s":"C1","x":0.73,"m":-1.99,"l":-2.33,"h":-1.65},
      {"s":"C1","x":0.757,"m":-1.95,"l":-2.28,"h":-1.55},
      {"s":"C1","x":0.784,"m":-1.92,"l":-2.25,"h":-1.52},
      {"s":"C1","x":0.806,"m":-1.9,"l":-2.23,"h":-1.5},
      {"s":"C1","x":0.82,"m":-1.98,"l":-2.3,"h":-1.58},
      {"s":"C1","x":0.839,"m":-1.9,"l":-2.23,"h":-1.52},
      {"s":"C1","x":0.866,"m":-1.86,"l":-2.2,"h":-1.5},
      {"s":"C1","x":0.894,"m":-1.82,"l":-2.16,"h":-1.48},
      {"s":"C1","x":0.926,"m":-1.82,"l":-2.16,"h":-1.47},
      {"s":"C1","x":0.948,"m":-1.86,"l":-2.18,"h":-1.52},
      {"s":"C1","x":0.965,"m":-1.76,"l":-2.12,"h":-1.43},
      {"s":"C1","x":0.976,"m":-1.72,"l":-2.08,"h":-1.4},
      {"s":"C1","x":0.998,"m":-1.76,"l":-2.12,"h":-1.45},
      {"s":"C1","x":1.014,"m":-1.86,"l":-2.18,"h":-1.52},
      {"s":"C1","x":1.047,"m":-1.84,"l":-2.16,"h":-1.5},
      {"s":"C1","x":1.085,"m":-1.9,"l":-2.2,"h":-1.55},
      {"s":"C1","x":1.112,"m":-1.85,"l":-2.17,"h":-1.52},
      {"s":"C1","x":1.14,"m":-1.93,"l":-2.22,"h":-1.6},
      {"s":"C1","x":1.16,"m":-1.9,"l":-2.2,"h":-1.6},
      {"s":"C1","x":1.178,"m":-1.88,"l":-2.18,"h":-1.58},
      {"s":"C1","x":1.2,"m":-1.86,"l":-2.17,"h":-1.56},
      {"s":"C1","x":1.222,"m":-1.84,"l":-2.16,"h":-1.55},
      {"s":"C1","x":1.26,"m":-1.86,"l":-2.18,"h":-1.55},
      {"s":"C1","x":1.29,"m":-1.82,"l":-2.16,"h":-1.5},
      {"s":"C1","x":1.315,"m":-1.78,"l":-2.12,"h":-1.48},
      {"s":"C1","x":1.33,"m":-1.83,"l":-2.18,"h":-1.5},
      {"s":"C1","x":1.348,"m":-1.86,"l":-2.2,"h":-1.52},
      {"s":"C1","x":1.374,"m":-1.84,"l":-2.18,"h":-1.52},
      {"s":"C1","x":1.402,"m":-1.92,"l":-2.22,"h":-1.6},
      {"s":"C1","x":1.435,"m":-1.88,"l":-2.2,"h":-1.56},
      {"s":"C1","x":1.473,"m":-1.92,"l":-2.22,"h":-1.6},
      {"s":"C1","x":1.506,"m":-1.88,"l":-2.2,"h":-1.56},
      {"s":"C1","x":1.539,"m":-1.9,"l":-2.2,"h":-1.56},
      {"s":"C1","x":1.566,"m":-1.86,"l":-2.17,"h":-1.52},
      {"s":"C1","x":1.604,"m":-1.86,"l":-2.16,"h":-1.5},
      {"s":"C1","x":1.632,"m":-1.82,"l":-2.14,"h":-1.48},
      {"s":"C1","x":1.67,"m":-1.81,"l":-2.14,"h":-1.5},
      {"s":"C1","x":1.703,"m":-1.88,"l":-2.2,"h":-1.54},
      {"s":"C1","x":1.73,"m":-1.93,"l":-2.26,"h":-1.58},
      {"s":"C1","x":1.763,"m":-1.98,"l":-2.32,"h":-1.6},
      {"s":"C1","x":1.785,"m":-1.95,"l":-2.3,"h":-1.58},
      {"s":"C1","x":1.81,"m":-1.92,"l":-2.26,"h":-1.55},
      {"s":"C1","x":1.829,"m":-1.9,"l":-2.22,"h":-1.52},
      {"s":"C1","x":1.851,"m":-1.89,"l":-2.2,"h":-1.54},
      {"s":"C1","x":1.87,"m":-1.93,"l":-2.22,"h":-1.58},
      {"s":"C1","x":1.894,"m":-1.95,"l":-2.22,"h":-1.6},
      {"s":"C1","x":1.921,"m":-1.9,"l":-2.18,"h":-1.6},
      {"s":"C1","x":1.954,"m":-1.86,"l":-2.16,"h":-1.62},
      {"s":"C1","x":1.981,"m":-1.97,"l":-2.2,"h":-1.66},
      {"s":"C1","x":2.0,"m":-1.91,"l":-2.18,"h":-1.65}
    ]
  },
  "encoding": {
    "x": {
      "field": "x",
      "type": "quantitative",
      "title": "Training Experiences",
      "scale": {"domain": [-0.1, 2.1], "nice": false, "zero": false},
      "axis": {
        "values": [0, 0.25, 0.5, 0.75, 1, 1.25, 1.5, 1.75, 2],
        "format": ".2f",
        "labelPadding": 28,
        "titlePadding": 14
      }
    }
  },
  "layer": [
    {
      "mark": {"type": "area", "fillOpacity": 0.4, "stroke": "#ffffff", "strokeOpacity": 0.35, "strokeWidth": 1.2},
      "encoding": {
        "y": {
          "field": "l",
          "type": "quantitative",
          "title": "Truncated Policy Entropy",
          "scale": {"domain": [-4.434, 0.659], "nice": false, "zero": false},
          "axis": {
            "values": [-4, -3, -2, -1, 0],
            "format": "d",
            "labelPadding": 38,
            "titlePadding": 22
          }
        },
        "y2": {"field": "h"},
        "fill": {
          "field": "s",
          "type": "nominal",
          "scale": {"domain": ["C1", "C0", "T", "P", "F"], "range": ["#f6c000", "#3977c1", "#7e5a88", "#7bb371", "#d0738c"]},
          "legend": null
        }
      }
    },
    {
      "mark": {"type": "line", "strokeWidth": 7, "strokeJoin": "round", "strokeCap": "round"},
      "encoding": {
        "y": {"field": "m", "type": "quantitative", "title": "Truncated Policy Entropy"},
        "color": {
          "field": "s",
          "type": "nominal",
          "scale": {"domain": ["F", "P", "T", "C0", "C1"], "range": ["#d0738c", "#7bb371", "#7e5a88", "#3977c1", "#f6c000"]},
          "legend": {
            "orient": "top-right",
            "offset": 19,
            "title": null,
            "symbolType": "stroke",
            "symbolSize": 7400,
            "symbolStrokeWidth": 5,
            "clipHeight": 45,
            "rowPadding": 15,
            "padding": 15,
            "labelFont": "Lato",
            "labelFontSize": 38,
            "labelLimit": 500,
            "labelColor": "#262626",
            "labelOffset": 30,
            "fillColor": "rgba(234,234,242,0.8)",
            "strokeColor": "#cccccc",
            "cornerRadius": 8,
            "labelExpr": "datum.label == 'F' ? 'FOCOPS' : datum.label == 'P' ? 'RCPO-PPO' : datum.label == 'T' ? 'RCPO-TRPO' : datum.label == 'C0' ? 'CRiSP (η = 0)' : 'CRiSP (η =0.25)'"
          }
        }
      }
    },
    {
      "data": {"values": [{"t": "×10⁸", "px": 2.1, "py": -4.434}]},
      "mark": {"type": "text", "font": "DejaVu Serif", "fontSize": 38, "color": "#262626", "align": "right", "baseline": "top", "dx": -4, "dy": 92},
      "encoding": {
        "x": {"field": "px", "type": "quantitative"},
        "y": {"field": "py", "type": "quantitative", "title": "Truncated Policy Entropy"},
        "text": {"field": "t"}
      }
    }
  ],
  "config": {
    "view": {"fill": "#EAEAF2", "stroke": null},
    "axis": {
      "grid": true,
      "gridColor": "#ffffff",
      "gridWidth": 3,
      "domain": false,
      "ticks": false,
      "labelFont": "Liberation Serif",
      "labelFontSize": 53,
      "labelColor": "#262626",
      "titleFont": "Lato",
      "titleFontSize": 52,
      "titleFontWeight": "normal",
      "titleColor": "#262626"
    }
  }
}
